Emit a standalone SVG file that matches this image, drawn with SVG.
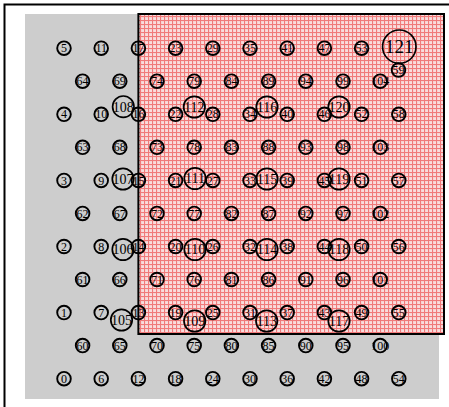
<svg xmlns="http://www.w3.org/2000/svg" width="449" height="407" viewBox="0 0 449 407">
<style>
.n circle{fill:none;stroke:#000;stroke-width:1.9}
.n text{font-family:"Liberation Serif","Times New Roman",serif;font-size:12px;text-anchor:middle;fill:#000}
.b circle{fill:none;stroke:#000;stroke-width:1.7}
.b text{font-family:"Liberation Serif","Times New Roman",serif;font-size:14px;text-anchor:middle;fill:#000}
</style>
<defs>
<pattern id="pl" width="4" height="4" patternUnits="userSpaceOnUse">
<rect width="4" height="4" fill="#f7d2d2"/>
<rect width="4" height="1" fill="#f07a7a"/>
<rect width="1" height="4" fill="#f07a7a"/>
<rect x="2.5" y="2.5" width="1" height="1" fill="#ffffff"/>
</pattern>
</defs>
<rect x="0" y="0" width="449" height="407" fill="#fff"/>
<g id="background">
<rect x="25" y="14" width="414" height="385" fill="#cdcdcd"/>
<rect x="138.4" y="14" width="305.6" height="320" fill="url(#pl)" stroke="#000" stroke-width="2"/>
<rect x="4.5" y="4.5" width="470" height="430" fill="none" stroke="#000" stroke-width="2"/>
</g>
<g id="nodes">
<g id="n0" class="n"><circle cx="64" cy="378.7" r="6.8"/><text x="64" y="382.8">0</text></g>
<g id="n1" class="n"><circle cx="64" cy="312.6" r="6.8"/><text x="64" y="316.7">1</text></g>
<g id="n2" class="n"><circle cx="64" cy="246.5" r="6.8"/><text x="64" y="250.6">2</text></g>
<g id="n3" class="n"><circle cx="64" cy="180.4" r="6.8"/><text x="64" y="184.5">3</text></g>
<g id="n4" class="n"><circle cx="64" cy="114.3" r="6.8"/><text x="64" y="118.4">4</text></g>
<g id="n5" class="n"><circle cx="64" cy="48.2" r="6.8"/><text x="64" y="52.3">5</text></g>
<g id="n6" class="n"><circle cx="101.2" cy="378.7" r="6.8"/><text x="101.2" y="382.8">6</text></g>
<g id="n7" class="n"><circle cx="101.2" cy="312.6" r="6.8"/><text x="101.2" y="316.7">7</text></g>
<g id="n8" class="n"><circle cx="101.2" cy="246.5" r="6.8"/><text x="101.2" y="250.6">8</text></g>
<g id="n9" class="n"><circle cx="101.2" cy="180.4" r="6.8"/><text x="101.2" y="184.5">9</text></g>
<g id="n10" class="n"><circle cx="101.2" cy="114.3" r="6.8"/><text x="101.2" y="118.4">10</text></g>
<g id="n11" class="n"><circle cx="101.2" cy="48.2" r="6.8"/><text x="101.2" y="52.3">11</text></g>
<g id="n12" class="n"><circle cx="138.4" cy="378.7" r="6.8"/><text x="138.4" y="382.8">12</text></g>
<g id="n13" class="n"><circle cx="138.4" cy="312.6" r="6.8"/><text x="138.4" y="316.7">13</text></g>
<g id="n14" class="n"><circle cx="138.4" cy="246.5" r="6.8"/><text x="138.4" y="250.6">14</text></g>
<g id="n15" class="n"><circle cx="138.4" cy="180.4" r="6.8"/><text x="138.4" y="184.5">15</text></g>
<g id="n16" class="n"><circle cx="138.4" cy="114.3" r="6.8"/><text x="138.4" y="118.4">16</text></g>
<g id="n17" class="n"><circle cx="138.4" cy="48.2" r="6.8"/><text x="138.4" y="52.3">17</text></g>
<g id="n18" class="n"><circle cx="175.6" cy="378.7" r="6.8"/><text x="175.6" y="382.8">18</text></g>
<g id="n19" class="n"><circle cx="175.6" cy="312.6" r="6.8"/><text x="175.6" y="316.7">19</text></g>
<g id="n20" class="n"><circle cx="175.6" cy="246.5" r="6.8"/><text x="175.6" y="250.6">20</text></g>
<g id="n21" class="n"><circle cx="175.6" cy="180.4" r="6.8"/><text x="175.6" y="184.5">21</text></g>
<g id="n22" class="n"><circle cx="175.6" cy="114.3" r="6.8"/><text x="175.6" y="118.4">22</text></g>
<g id="n23" class="n"><circle cx="175.6" cy="48.2" r="6.8"/><text x="175.6" y="52.3">23</text></g>
<g id="n24" class="n"><circle cx="212.8" cy="378.7" r="6.8"/><text x="212.8" y="382.8">24</text></g>
<g id="n25" class="n"><circle cx="212.8" cy="312.6" r="6.8"/><text x="212.8" y="316.7">25</text></g>
<g id="n26" class="n"><circle cx="212.8" cy="246.5" r="6.8"/><text x="212.8" y="250.6">26</text></g>
<g id="n27" class="n"><circle cx="212.8" cy="180.4" r="6.8"/><text x="212.8" y="184.5">27</text></g>
<g id="n28" class="n"><circle cx="212.8" cy="114.3" r="6.8"/><text x="212.8" y="118.4">28</text></g>
<g id="n29" class="n"><circle cx="212.8" cy="48.2" r="6.8"/><text x="212.8" y="52.3">29</text></g>
<g id="n30" class="n"><circle cx="250" cy="378.7" r="6.8"/><text x="250" y="382.8">30</text></g>
<g id="n31" class="n"><circle cx="250" cy="312.6" r="6.8"/><text x="250" y="316.7">31</text></g>
<g id="n32" class="n"><circle cx="250" cy="246.5" r="6.8"/><text x="250" y="250.6">32</text></g>
<g id="n33" class="n"><circle cx="250" cy="180.4" r="6.8"/><text x="250" y="184.5">33</text></g>
<g id="n34" class="n"><circle cx="250" cy="114.3" r="6.8"/><text x="250" y="118.4">34</text></g>
<g id="n35" class="n"><circle cx="250" cy="48.2" r="6.8"/><text x="250" y="52.3">35</text></g>
<g id="n36" class="n"><circle cx="287.2" cy="378.7" r="6.8"/><text x="287.2" y="382.8">36</text></g>
<g id="n37" class="n"><circle cx="287.2" cy="312.6" r="6.8"/><text x="287.2" y="316.7">37</text></g>
<g id="n38" class="n"><circle cx="287.2" cy="246.5" r="6.8"/><text x="287.2" y="250.6">38</text></g>
<g id="n39" class="n"><circle cx="287.2" cy="180.4" r="6.8"/><text x="287.2" y="184.5">39</text></g>
<g id="n40" class="n"><circle cx="287.2" cy="114.3" r="6.8"/><text x="287.2" y="118.4">40</text></g>
<g id="n41" class="n"><circle cx="287.2" cy="48.2" r="6.8"/><text x="287.2" y="52.3">41</text></g>
<g id="n42" class="n"><circle cx="324.4" cy="378.7" r="6.8"/><text x="324.4" y="382.8">42</text></g>
<g id="n43" class="n"><circle cx="324.4" cy="312.6" r="6.8"/><text x="324.4" y="316.7">43</text></g>
<g id="n44" class="n"><circle cx="324.4" cy="246.5" r="6.8"/><text x="324.4" y="250.6">44</text></g>
<g id="n45" class="n"><circle cx="324.4" cy="180.4" r="6.8"/><text x="324.4" y="184.5">45</text></g>
<g id="n46" class="n"><circle cx="324.4" cy="114.3" r="6.8"/><text x="324.4" y="118.4">46</text></g>
<g id="n47" class="n"><circle cx="324.4" cy="48.2" r="6.8"/><text x="324.4" y="52.3">47</text></g>
<g id="n48" class="n"><circle cx="361.6" cy="378.7" r="6.8"/><text x="361.6" y="382.8">48</text></g>
<g id="n49" class="n"><circle cx="361.6" cy="312.6" r="6.8"/><text x="361.6" y="316.7">49</text></g>
<g id="n50" class="n"><circle cx="361.6" cy="246.5" r="6.8"/><text x="361.6" y="250.6">50</text></g>
<g id="n51" class="n"><circle cx="361.6" cy="180.4" r="6.8"/><text x="361.6" y="184.5">51</text></g>
<g id="n52" class="n"><circle cx="361.6" cy="114.3" r="6.8"/><text x="361.6" y="118.4">52</text></g>
<g id="n53" class="n"><circle cx="361.6" cy="48.2" r="6.8"/><text x="361.6" y="52.3">53</text></g>
<g id="n54" class="n"><circle cx="398.8" cy="378.7" r="6.8"/><text x="398.8" y="382.8">54</text></g>
<g id="n55" class="n"><circle cx="398.8" cy="312.6" r="6.8"/><text x="398.8" y="316.7">55</text></g>
<g id="n56" class="n"><circle cx="398.8" cy="246.5" r="6.8"/><text x="398.8" y="250.6">56</text></g>
<g id="n57" class="n"><circle cx="398.8" cy="180.4" r="6.8"/><text x="398.8" y="184.5">57</text></g>
<g id="n58" class="n"><circle cx="398.8" cy="114.3" r="6.8"/><text x="398.8" y="118.4">58</text></g>
<g id="n59" class="n"><circle cx="398.5" cy="70" r="6.8"/><text x="398.5" y="74.1">59</text></g>
<g id="n60" class="n"><circle cx="82.6" cy="345.6" r="6.8"/><text x="82.6" y="349.7">60</text></g>
<g id="n61" class="n"><circle cx="82.6" cy="279.5" r="6.8"/><text x="82.6" y="283.6">61</text></g>
<g id="n62" class="n"><circle cx="82.6" cy="213.4" r="6.8"/><text x="82.6" y="217.5">62</text></g>
<g id="n63" class="n"><circle cx="82.6" cy="147.3" r="6.8"/><text x="82.6" y="151.4">63</text></g>
<g id="n64" class="n"><circle cx="82.6" cy="81.2" r="6.8"/><text x="82.6" y="85.3">64</text></g>
<g id="n65" class="n"><circle cx="119.8" cy="345.6" r="6.8"/><text x="119.8" y="349.7">65</text></g>
<g id="n66" class="n"><circle cx="119.8" cy="279.5" r="6.8"/><text x="119.8" y="283.6">66</text></g>
<g id="n67" class="n"><circle cx="119.8" cy="213.4" r="6.8"/><text x="119.8" y="217.5">67</text></g>
<g id="n68" class="n"><circle cx="119.8" cy="147.3" r="6.8"/><text x="119.8" y="151.4">68</text></g>
<g id="n69" class="n"><circle cx="119.8" cy="81.2" r="6.8"/><text x="119.8" y="85.3">69</text></g>
<g id="n70" class="n"><circle cx="157" cy="345.6" r="6.8"/><text x="157" y="349.7">70</text></g>
<g id="n71" class="n"><circle cx="157" cy="279.5" r="6.8"/><text x="157" y="283.6">71</text></g>
<g id="n72" class="n"><circle cx="157" cy="213.4" r="6.8"/><text x="157" y="217.5">72</text></g>
<g id="n73" class="n"><circle cx="157" cy="147.3" r="6.8"/><text x="157" y="151.4">73</text></g>
<g id="n74" class="n"><circle cx="157" cy="81.2" r="6.8"/><text x="157" y="85.3">74</text></g>
<g id="n75" class="n"><circle cx="194.2" cy="345.6" r="6.8"/><text x="194.2" y="349.7">75</text></g>
<g id="n76" class="n"><circle cx="194.2" cy="279.5" r="6.8"/><text x="194.2" y="283.6">76</text></g>
<g id="n77" class="n"><circle cx="194.2" cy="213.4" r="6.8"/><text x="194.2" y="217.5">77</text></g>
<g id="n78" class="n"><circle cx="194.2" cy="147.3" r="6.8"/><text x="194.2" y="151.4">78</text></g>
<g id="n79" class="n"><circle cx="194.2" cy="81.2" r="6.8"/><text x="194.2" y="85.3">79</text></g>
<g id="n80" class="n"><circle cx="231.4" cy="345.6" r="6.8"/><text x="231.4" y="349.7">80</text></g>
<g id="n81" class="n"><circle cx="231.4" cy="279.5" r="6.8"/><text x="231.4" y="283.6">81</text></g>
<g id="n82" class="n"><circle cx="231.4" cy="213.4" r="6.8"/><text x="231.4" y="217.5">82</text></g>
<g id="n83" class="n"><circle cx="231.4" cy="147.3" r="6.8"/><text x="231.4" y="151.4">83</text></g>
<g id="n84" class="n"><circle cx="231.4" cy="81.2" r="6.8"/><text x="231.4" y="85.3">84</text></g>
<g id="n85" class="n"><circle cx="268.6" cy="345.6" r="6.8"/><text x="268.6" y="349.7">85</text></g>
<g id="n86" class="n"><circle cx="268.6" cy="279.5" r="6.8"/><text x="268.6" y="283.6">86</text></g>
<g id="n87" class="n"><circle cx="268.6" cy="213.4" r="6.8"/><text x="268.6" y="217.5">87</text></g>
<g id="n88" class="n"><circle cx="268.6" cy="147.3" r="6.8"/><text x="268.6" y="151.4">88</text></g>
<g id="n89" class="n"><circle cx="268.6" cy="81.2" r="6.8"/><text x="268.6" y="85.3">89</text></g>
<g id="n90" class="n"><circle cx="305.8" cy="345.6" r="6.8"/><text x="305.8" y="349.7">90</text></g>
<g id="n91" class="n"><circle cx="305.8" cy="279.5" r="6.8"/><text x="305.8" y="283.6">91</text></g>
<g id="n92" class="n"><circle cx="305.8" cy="213.4" r="6.8"/><text x="305.8" y="217.5">92</text></g>
<g id="n93" class="n"><circle cx="305.8" cy="147.3" r="6.8"/><text x="305.8" y="151.4">93</text></g>
<g id="n94" class="n"><circle cx="305.8" cy="81.2" r="6.8"/><text x="305.8" y="85.3">94</text></g>
<g id="n95" class="n"><circle cx="343" cy="345.6" r="6.8"/><text x="343" y="349.7">95</text></g>
<g id="n96" class="n"><circle cx="343" cy="279.5" r="6.8"/><text x="343" y="283.6">96</text></g>
<g id="n97" class="n"><circle cx="343" cy="213.4" r="6.8"/><text x="343" y="217.5">97</text></g>
<g id="n98" class="n"><circle cx="343" cy="147.3" r="6.8"/><text x="343" y="151.4">98</text></g>
<g id="n99" class="n"><circle cx="343" cy="81.2" r="6.8"/><text x="343" y="85.3">99</text></g>
<g id="n100" class="n"><circle cx="380.2" cy="345.6" r="6.8"/><text x="380.2" y="349.7">100</text></g>
<g id="n101" class="n"><circle cx="380.2" cy="279.5" r="6.8"/><text x="380.2" y="283.6">101</text></g>
<g id="n102" class="n"><circle cx="380.2" cy="213.4" r="6.8"/><text x="380.2" y="217.5">102</text></g>
<g id="n103" class="n"><circle cx="380.2" cy="147.3" r="6.8"/><text x="380.2" y="151.4">103</text></g>
<g id="n104" class="n"><circle cx="380.2" cy="81.2" r="6.8"/><text x="380.2" y="85.3">104</text></g>
<g id="n105" class="b"><circle cx="121.5" cy="320" r="10.7"/><text x="121.5" y="324.9">105</text></g>
<g id="n106" class="b"><circle cx="123" cy="249.5" r="10.7"/><text x="123" y="254.4">106</text></g>
<g id="n107" class="b"><circle cx="123" cy="179" r="10.7"/><text x="123" y="183.9">107</text></g>
<g id="n108" class="b"><circle cx="123.3" cy="106.7" r="10.7"/><text x="123.3" y="111.6">108</text></g>
<g id="n109" class="b"><circle cx="194.7" cy="321" r="10.7"/><text x="194.7" y="325.9">109</text></g>
<g id="n110" class="b"><circle cx="195" cy="249.5" r="10.7"/><text x="195" y="254.4">110</text></g>
<g id="n111" class="b"><circle cx="195" cy="178.5" r="10.7"/><text x="195" y="183.4">111</text></g>
<g id="n112" class="b"><circle cx="194.3" cy="107" r="10.7"/><text x="194.3" y="111.9">112</text></g>
<g id="n113" class="b"><circle cx="266.7" cy="321" r="10.7"/><text x="266.7" y="325.9">113</text></g>
<g id="n114" class="b"><circle cx="267" cy="249.5" r="10.7"/><text x="267" y="254.4">114</text></g>
<g id="n115" class="b"><circle cx="267" cy="179" r="10.7"/><text x="267" y="183.9">115</text></g>
<g id="n116" class="b"><circle cx="267" cy="107" r="10.7"/><text x="267" y="111.9">116</text></g>
<g id="n117" class="b"><circle cx="339" cy="321" r="10.7"/><text x="339" y="325.9">117</text></g>
<g id="n118" class="b"><circle cx="339" cy="249.5" r="10.7"/><text x="339" y="254.4">118</text></g>
<g id="n119" class="b"><circle cx="339" cy="179" r="10.7"/><text x="339" y="183.9">119</text></g>
<g id="n120" class="b"><circle cx="339" cy="107" r="10.7"/><text x="339" y="111.9">120</text></g>
<g id="n121" class="b"><circle cx="399.3" cy="46.7" r="16.7"/><text x="399.3" y="53.2" style="font-size:19px">121</text></g>
</g>
<g id="connectors"></g>
</svg>
